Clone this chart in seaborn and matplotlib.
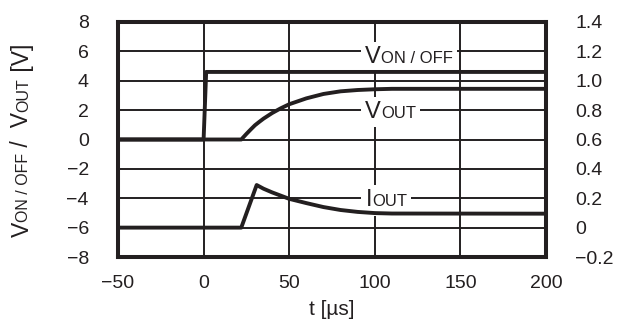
import matplotlib
matplotlib.use('Agg')
import matplotlib.pyplot as plt
import seaborn as sns
from matplotlib.offsetbox import TextArea, HPacker, AnnotationBbox

# 数据
t_von = [-50, 0, 1.5, 200]
von = [0, 0, 4.6, 4.6]  # V

t_vout = [-50, 22, 25, 27.5, 30, 32.5, 35, 40, 45, 50, 60, 70, 80, 90, 100, 110, 200]
vout = [0, 0, 0.38, 0.68, 0.97, 1.2, 1.42, 1.8, 2.12, 2.4, 2.8, 3.1, 3.28, 3.37, 3.42, 3.45, 3.45]  # V

t_iout = [-50, 22, 31, 35, 40, 50, 60, 70, 80, 90, 100, 110, 200]
iout = [0, 0, 0.29, 0.265, 0.24, 0.196, 0.167, 0.14, 0.12, 0.107, 0.099, 0.096, 0.095]  # A

x_ticks = [-50, 0, 50, 100, 150, 200]
left_ticks = [-8, -6, -4, -2, 0, 2, 4, 6, 8]
right_ticks = [-0.2, 0, 0.2, 0.4, 0.6, 0.8, 1.0, 1.2, 1.4]
right_labels = ['\u22120.2', '0', '0.2', '0.4', '0.6', '0.8', '1.0', '1.2', '1.4']

# 标签：(文字, 字号) 小型大写字母效果
label_von = [('V', 17), ('ON / OFF', 12)]
label_vout = [('V', 17), ('OUT', 12)]
label_iout = [('I', 17), ('OUT', 12)]
ylabel_parts = [('V', 16.5), ('ON / OFF', 11.5), (' /', 16.5), ('  V', 16.5), ('OUT', 11.5), (' [V]', 16.5)]

sns.set_theme(style='white')
plt.rcParams['font.family'] = ['Liberation Sans', 'DejaVu Sans']
plt.rcParams['axes.unicode_minus'] = True

INK = '#231f20'
W, H = 624, 329

fig = plt.figure(figsize=(W / 100, H / 100), dpi=100)
ax = fig.add_axes([118 / W, 72 / H, 428 / W, 235 / H])

sns.lineplot(x=t_von, y=von, ax=ax, color=INK, lw=2.8, estimator=None, sort=False, zorder=3)
sns.lineplot(x=t_vout, y=vout, ax=ax, color=INK, lw=2.8, estimator=None, sort=False, zorder=3)

ax.set_xlim(-50, 200)
ax.set_ylim(-8, 8)
ax.set_xticks(x_ticks)
ax.set_yticks(left_ticks)
ax.grid(True, color=INK, lw=1.4, zorder=1)
ax.tick_params(axis='x', length=0, pad=13, labelsize=14, colors=INK)
ax.tick_params(axis='y', length=0, pad=21, labelsize=14, colors=INK)
for s in ax.spines.values():
    s.set_visible(False)

ax2 = ax.twinx()
sns.lineplot(x=t_iout, y=iout, ax=ax2, color=INK, lw=2.8, estimator=None, sort=False)
ax2.set_ylim(-0.2, 1.4)
ax2.set_yticks(right_ticks)
ax2.set_yticklabels(right_labels)
ax2.tick_params(axis='y', length=0, pad=21, labelsize=14, colors=INK)
ax2.set_ylabel('')
for s in ax2.spines.values():
    s.set_linewidth(2.9)
    s.set_color(INK)

ax.set_xlabel('t [\u00b5s]', fontsize=15, color=INK)
ax.xaxis.set_label_coords(0.5, -0.183)
ax.xaxis.label.set_va('top')
ax.set_ylabel('')


# 图内曲线标签（白底，只盖住网格线）
def curve_label(parts, x, y):
    kids = [TextArea(txt, textprops=dict(fontsize=sz, color=INK)) for txt, sz in parts]
    box = HPacker(children=kids, align='baseline', pad=0, sep=0)
    ab = AnnotationBbox(box, (x, y), xycoords='data', box_alignment=(0, 0.5),
                        frameon=True, pad=0.3, fontsize=10,
                        bboxprops=dict(facecolor='white', edgecolor='none'))
    ab.set_zorder(2)
    ax.add_artist(ab)


curve_label(label_von, 94.5, 5.6)
curve_label(label_vout, 94.5, 1.85)
curve_label(label_iout, 94.5, -4.15)

# 纵轴标题（竖排，分段字号）
renderer = fig.canvas.get_renderer()
x_px, y_px = 28.5, 92
for txt, sz in ylabel_parts:
    t = fig.text(x_px / W, y_px / H, txt, fontsize=sz, rotation=90, rotation_mode='anchor',
                 ha='left', va='baseline', color=INK)
    y_px += t.get_window_extent(renderer).height

fig.savefig('out.png', dpi=100)
